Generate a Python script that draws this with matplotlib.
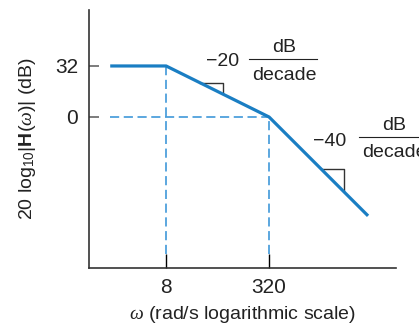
import numpy as np
import matplotlib.pyplot as plt
from matplotlib.lines import Line2D

plt.rcParams['font.family'] = ['Liberation Sans', 'DejaVu Sans']
plt.rcParams['mathtext.fontset'] = 'custom'
plt.rcParams['mathtext.rm'] = 'Liberation Sans'
plt.rcParams['mathtext.it'] = 'Liberation Serif:italic'
plt.rcParams['mathtext.bf'] = 'Liberation Sans:bold'

# asymptotic Bode magnitude (corner points)
omega = [1.08, 8, 320, 11100]
gain_db = [32, 32, 0, -62]

xticks = [8, 320]
yticks = [0, 32]

# slope triangles: (x_left, x_right) along each sloped segment
tri1 = [27, 61.6]
tri2 = [2112, 4694]

blue = '#1a7ec3'
dash_blue = '#2f8fd6'
gray = '#333333'
txt = '#222222'
fs = 14

fig = plt.figure(figsize=(4.19, 3.29), dpi=100)
ax = fig.add_axes([0.2124, 0.1854, 0.7327, 0.7842])
ax.set_xscale('log')
ax.set_xlim(0.505, 30200)
ax.set_ylim(-94.7, 67.1)

# guide lines
ax.plot([omega[0], 320], [0, 0], color=dash_blue, lw=1.1, ls=(0, (6, 3)))
ax.plot([8, 8], [-86, 32], color=dash_blue, lw=1.1, ls=(0, (6, 3)))
ax.plot([320, 320], [-86, 0], color=dash_blue, lw=1.1, ls=(0, (6, 3)))

ax.plot(omega, gain_db, color=blue, lw=2.3, solid_capstyle='butt', zorder=3)


def seg_y(w, w0, y0, slope):
    return y0 + slope * np.log10(w / w0)


for (a, b), (w0, y0, s) in [(tri1, (8, 32, -20)), (tri2, (320, 0, -40))]:
    ya = seg_y(a, w0, y0, s)
    yb = seg_y(b, w0, y0, s)
    ax.plot([a, b, b], [ya, ya, yb], color=gray, lw=1.0, zorder=2)

ax.spines['top'].set_visible(False)
ax.spines['right'].set_visible(False)
for sp in ['left', 'bottom']:
    ax.spines[sp].set_color(gray)
    ax.spines[sp].set_linewidth(1.2)

ax.set_xticks(xticks)
ax.set_xticklabels([str(t) for t in xticks])
ax.xaxis.set_minor_locator(plt.NullLocator())
ax.set_yticks(yticks)
ax.set_yticklabels([str(t) for t in yticks])
ax.tick_params(axis='x', direction='in', length=10, width=1.0, color='black',
               labelsize=15, pad=7, labelcolor=txt)
ax.tick_params(axis='y', direction='in', length=7, width=1.2, color='#666666',
               labelsize=15, pad=8, labelcolor=txt)

ax.set_xlabel(r'$\omega$ (rad/s logarithmic scale)', fontsize=fs, labelpad=5,
              color=txt)
ax.set_ylabel(r'20 log$_{10}$|$\mathbf{H}$($\omega$)| (dB)', fontsize=fs,
              labelpad=12, color=txt)


def px(x, y):
    return x / 419, 1 - y / 329


def frac_label(num, x_num, y_num, x_frac, bar, y_bar, y_top, y_bot):
    fig.text(*px(x_num, y_num), num, ha='center', va='center', fontsize=fs, color=txt)
    fig.text(*px(x_frac, y_top), 'dB', ha='center', va='center', fontsize=fs, color=txt)
    fig.text(*px(x_frac, y_bot), 'decade', ha='center', va='center', fontsize=fs, color=txt)
    x0, y0 = px(bar[0], y_bar)
    x1, _ = px(bar[1], y_bar)
    fig.add_artist(Line2D([x0, x1], [y0, y0], transform=fig.transFigure,
                          color=txt, lw=0.8))


frac_label('\u221220', 223, 62, 284, (249, 317), 59, 48, 76)
frac_label('\u221240', 330, 141, 394, (359, 425), 137, 126, 153)

fig.savefig('out.png', dpi=100)
